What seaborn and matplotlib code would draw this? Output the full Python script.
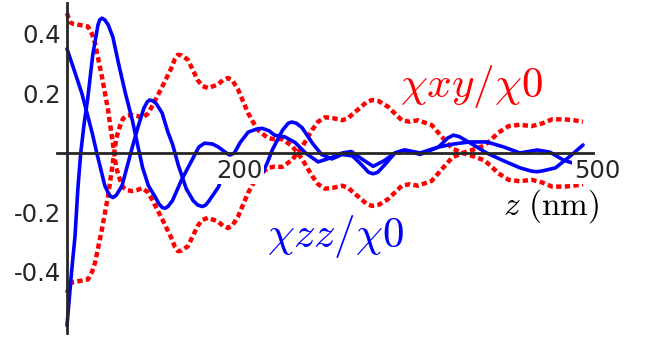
import matplotlib
matplotlib.use("Agg")
import matplotlib.pyplot as plt
import matplotlib.transforms as mtransforms
import seaborn as sns
import numpy as np

# values (z in nm, ratios to chi_0)
z_red = [50, 52.6, 55.2, 61.3, 68.3, 71.8, 74.4, 80.5, 85.8, 90.1, 93, 96.2, 98.8, 102, 106.7,
         111, 115.4, 120, 124, 133, 141.6, 144, 146.8, 150, 155.5, 164, 168, 173, 181.7, 186,
         190.4, 194, 199, 207.8, 215.7, 225.3, 231, 237.5, 246.2, 255, 263.7, 269, 275, 282,
         290, 295, 305, 311, 316, 322, 330, 342, 349, 356, 368, 377, 386, 395, 405, 414, 420,
         426, 435, 445, 455, 465, 473, 484, 492, 500]
chi_xy = [0.47, 0.44, 0.434, 0.43, 0.425, 0.40, 0.37, 0.256, 0.145, 0.03, -0.05, -0.09, -0.115,
          -0.125, -0.128, -0.125, -0.118, -0.13, -0.155, -0.222, -0.29, -0.315, -0.33, -0.328,
          -0.313, -0.245, -0.225, -0.218, -0.23, -0.245, -0.252, -0.245, -0.215, -0.135, -0.08,
          -0.05, -0.046, -0.047, -0.024, 0.02, 0.077, 0.105, 0.12, 0.117, 0.11, 0.117, 0.15,
          0.17, 0.178, 0.174, 0.155, 0.11, 0.105, 0.11, 0.094, 0.054, 0.015, 0.0, -0.012,
          -0.025, -0.045, -0.068, -0.09, -0.095, -0.09, -0.1, -0.113, -0.113, -0.11, -0.105]

z_a = [50, 57, 63, 72, 76, 83, 87, 90, 93, 98, 107, 112, 117, 120, 122, 125, 128, 133, 138, 142,
       147, 154, 160, 164, 168, 171, 174, 182, 185, 190, 200, 210, 217, 221, 225, 229, 238, 243,
       246, 250, 255, 264, 272, 281, 290, 299, 307, 313, 317, 321, 327, 336, 344, 358, 374, 382,
       387, 392, 401, 416, 430, 445, 455, 460, 465, 476, 489, 500]
chi_zz_a = [0.35, 0.27, 0.2, 0.067, 0.0, -0.11, -0.142, -0.15, -0.142, -0.11, 0.02, 0.088, 0.15,
            0.172, 0.178, 0.175, 0.165, 0.134, 0.07, 0.03, -0.04, -0.12, -0.16, -0.175, -0.18,
            -0.175, -0.16, -0.115, -0.085, -0.075, -0.072, -0.07, -0.068, -0.064, -0.03, 0.01,
            0.077, 0.1, 0.104, 0.1, 0.085, 0.033, -0.005, -0.02, -0.005, -0.01, -0.04, -0.065,
            -0.07, -0.065, -0.04, 0.0, 0.01, -0.005, 0.02, 0.05, 0.06, 0.055, 0.035, 0.0,
            -0.025, -0.05, -0.061, -0.063, -0.06, -0.05, -0.01, 0.027]

z_b = [50, 54, 57, 59.5, 62, 65, 68, 72.5, 77, 78.5, 80.5, 83, 86, 90, 95, 101, 107, 112, 116,
       121, 127, 130, 133, 135.5, 138, 142, 150, 159, 165, 170, 177, 182, 189, 192, 196, 201,
       208, 215, 220, 226, 231, 240, 249, 258, 269, 281, 290, 298, 307, 317, 327, 336, 345, 358,
       374, 387, 401, 416, 431, 445, 460, 471, 483, 500]
chi_zz_b = [-0.58, -0.40, -0.28, -0.12, 0.0, 0.1, 0.18, 0.33, 0.43, 0.447, 0.453, 0.447, 0.43,
            0.39, 0.3, 0.2, 0.11, 0.02, -0.05, -0.11, -0.148, -0.17, -0.183, -0.186, -0.18,
            -0.16, -0.09, -0.024, 0.02, 0.033, 0.03, 0.02, 0.0, -0.007, 0.0, 0.035, 0.07, 0.08,
            0.083, 0.075, 0.06, 0.054, 0.035, 0.0, -0.03, -0.015, 0.0, 0.005, -0.02, -0.045,
            -0.025, 0.0, 0.01, 0.0, 0.02, 0.03, 0.037, 0.037, 0.02, 0.0, 0.01, 0.003, -0.024,
            -0.045]

sns.set_style("white")
plt.rcParams["axes.unicode_minus"] = False
plt.rcParams["mathtext.fontset"] = "cm"

fig = plt.figure(figsize=(6.52, 3.41), dpi=100)
ax = fig.add_axes([57 / 652, 8 / 341, 536 / 652, 330 / 341])

red_ls = (0, (1.2, 0.75))
sns.lineplot(x=z_red, y=chi_xy, ax=ax, color="#ff0000", lw=3.2, linestyle=red_ls, sort=False)
sns.lineplot(x=z_red, y=[-v for v in chi_xy], ax=ax, color="#ff0000", lw=3.2, linestyle=red_ls,
             sort=False)
sns.lineplot(x=z_a, y=chi_zz_a, ax=ax, color="#0000ff", lw=2.6, sort=False,
             solid_joinstyle="round")
sns.lineplot(x=z_b, y=chi_zz_b, ax=ax, color="#0000ff", lw=2.6, sort=False,
             solid_joinstyle="round")

ax.set_xlim(41.3, 508.7)
ax.set_ylim(-0.605, 0.504)

for s in ["top", "right"]:
    ax.spines[s].set_visible(False)
ax.spines["left"].set_position(("data", 50))
ax.spines["bottom"].set_position(("data", 0))
ax.spines["left"].set_linewidth(2)
ax.spines["bottom"].set_linewidth(2)

ax.set_xticks([100, 200, 300, 400, 500])
ax.set_xticklabels(["", "200", "", "", "500"])
ax.set_xticks(np.arange(60, 501, 20), minor=True)
ax.set_yticks([-0.4, -0.2, 0.2, 0.4])
ax.set_yticklabels(["-0.4", "-0.2", "0.2", "0.4"])
ax.set_yticks(np.arange(-0.6, 0.501, 0.05), minor=True)
ax.tick_params(axis="both", which="major", direction="in", length=5, width=1, labelsize=17.5, pad=4)
ax.tick_params(axis="both", which="minor", direction="in", length=3.5, width=1)
ax.set_axisbelow(False)

for lbl in ax.get_xticklabels():
    lbl.set_bbox(dict(facecolor="white", edgecolor="none", pad=1))
ax.get_xticklabels()[-1].set_transform(
    ax.get_xticklabels()[-1].get_transform()
    + mtransforms.ScaledTranslation(14 / 100, 0, fig.dpi_scale_trans))

ax.set_xlabel("")
ax.set_ylabel("")

fig.text(471 / 652, 1 - 86 / 341, r"$\chi xy/\chi 0$", color="#ff0000", fontsize=31,
         ha="center", va="center")
fig.text(336 / 652, 1 - 236 / 341, r"$\chi zz/\chi 0$", color="#0000ff", fontsize=31,
         ha="center", va="center")
fig.text(551 / 652, 1 - 206 / 341, r"$z\ (\mathrm{nm})$", color="black", fontsize=24,
         ha="center", va="center")

fig.savefig("out.png", dpi=100)
